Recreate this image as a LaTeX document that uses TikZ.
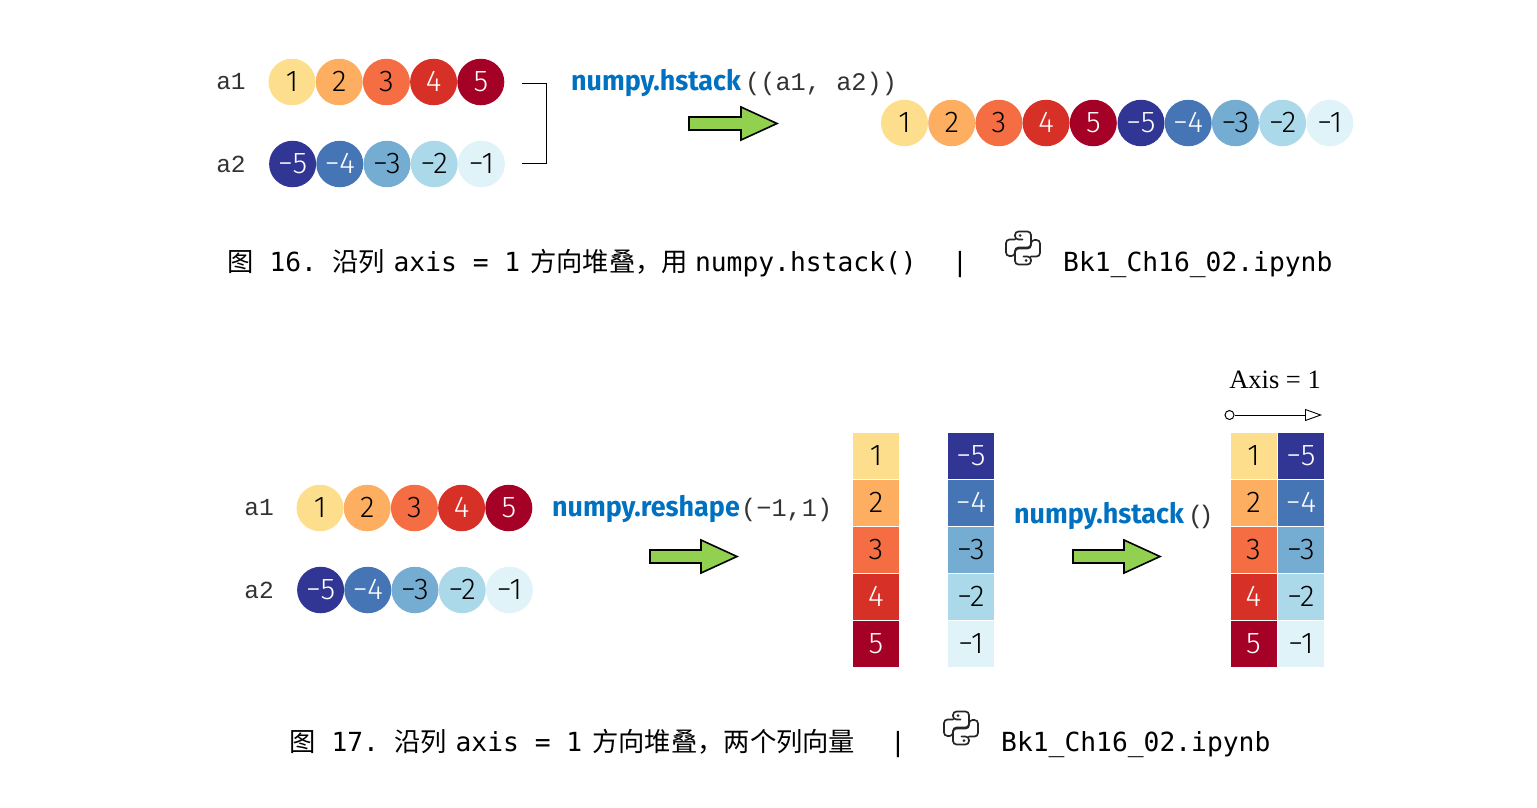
\documentclass[tikz,border=0pt]{standalone}
\usepackage{fontspec}
\usetikzlibrary{arrows.meta,shapes.geometric}
\setmainfont{Liberation Sans}
\newfontfamily\numf[Numbers=Lining]{Fira Sans Light}
\newfontfamily\blf[FakeStretch=0.96]{Fira Sans}
\newfontfamily\codef{Liberation Mono}
\newfontfamily\capf{DejaVu Sans Mono}
\newfontfamily\cjkf{Noto Sans CJK SC}
\newfontfamily\serf{Liberation Serif}
\definecolor{c1}{HTML}{FDDE8D}
\definecolor{c2}{HTML}{FDAE61}
\definecolor{c3}{HTML}{F46D43}
\definecolor{c4}{HTML}{D73027}
\definecolor{c5}{HTML}{A50026}
\definecolor{m5}{HTML}{313695}
\definecolor{m4}{HTML}{4575B4}
\definecolor{m3}{HTML}{74ADD1}
\definecolor{m2}{HTML}{ABD9E9}
\definecolor{m1}{HTML}{E0F3F8}
\definecolor{codeblue}{HTML}{0070C0}
\definecolor{arrgreen}{HTML}{92D050}
\tikzset{
  x=1pt,y=-1pt,
  dot/.style n args={2}{shape=ellipse,draw=none,fill=#1,minimum width=47pt,minimum height=46.5pt,inner sep=0pt,font=\fontsize{30}{30}\numf,text=#2,text height=19pt,text depth=0pt},
  cell/.style n args={2}{shape=rectangle,draw=none,fill=#1,minimum width=46pt,minimum height=46pt,inner sep=0pt,font=\fontsize{30}{30}\numf,text=#2,text height=19pt,text depth=0pt},
  varlab/.style={font=\fontsize{24.5}{25}\codef,inner sep=0pt,text=black!80},
  fname/.style={font=\fontsize{28}{28}\blf\bfseries,text=codeblue,inner sep=0pt,anchor=base west},
  fargs/.style={font=\fontsize{25.3}{26}\codef,text=black!80,inner sep=0pt,anchor=base west},
  capt/.style={font=\fontsize{26.3}{27}\capf,inner sep=0pt,anchor=base west,text=black},
  bigarrow/.style={draw=black,line width=1.6pt,fill=arrgreen,line join=miter},
  bracketline/.style={draw=black,line width=0.9pt},
  pylogo/.pic={
    \foreach \r in {0,180}{
      \begin{scope}[rotate=\r]
        \draw[line width=1.7pt,rounded corners=3.5pt,line cap=round,black!85]
          (-0.5,-8.5) -- (-8,-8.5) -- (-8,-16.5) -- (8,-16.5) -- (8,-0.5) -- (-8,-0.5) -- (-8,8) -- (-17,8) -- (-17,-8.5) -- (-8,-8.5);
        \fill[black!85] (-3,-12.5) circle (1.5);
      \end{scope}
    }
  }
}
\newcommand{\numrow}[4]{% prefix, y, first x, list
  \foreach \lab/\col/\txt [count=\i from 0] in #4{
    \pgfmathsetmacro{\xx}{#3+47.2*\i}
    \node[dot={\col}{\txt}] (#1\i) at (\xx,#2) {\lab};
  }}
\newcommand{\numcol}[3]{% prefix, x, list
  \foreach \lab/\col/\txt [count=\i from 0] in #3{
    \pgfmathsetmacro{\yy}{456+47*\i}
    \node[cell={\col}{\txt}] (#1\i) at (#2,\yy) {\lab};
  }}
\def\posl{1/c1/black,2/c2/black,3/c3/black,4/c4/white,5/c5/white}
\def\negl{−5/m5/white,−4/m4/white,−3/m3/black,−2/m2/black,−1/m1/black}
\begin{document}
\begin{tikzpicture}
\useasboundingbox (0,0) rectangle (1537,807);
% ---- top
\node[varlab] (la1) at (231,82) {a1};
\node[varlab] (la2) at (231,164) {a2};
\numrow{A}{82}{292}{\posl}
\numrow{B}{164}{292.6}{\negl}
\coordinate (brt) at (522,83);
\coordinate (brb) at (522,163);
\draw[bracketline] (brt) -- (546.5,83) -- (546.5,163) -- (brb);
\node[fname] (f1) at (571,90) {numpy.hstack};
\node[fargs] (f1a) at (745,90) {((a1, a2))};
\draw[bigarrow] (689,117) -- (741,117) -- (741,107) -- (777,123.5) -- (741,140) -- (741,130) -- (689,130) -- cycle;
\numrow{C}{123}{904.5}{\posl}
\numrow{D}{123}{1141}{\negl}
% ---- caption 1
\node[capt] (cap1) at (227,271) {{\cjkf 图}\kern16pt 16.\kern15pt{\cjkf 沿列}\kern9pt axis = 1\kern10pt{\cjkf 方向堆叠，用}\kern7pt numpy.hstack()};
\node[capt] (bar1) at (952,271) {|};
\pic at (1023,248) {pylogo};
\node[capt] (nb1) at (1063,271) {Bk1\_Ch16\_02.ipynb};
% ---- bottom
\node[varlab] (lb1) at (259,508) {a1};
\node[varlab] (lb2) at (259,590) {a2};
\numrow{E}{508}{320}{\posl}
\numrow{F}{590}{320.6}{\negl}
\node[fname] (f2) at (552,516) {numpy.reshape};
\node[fargs] (f2a) at (741,516) {(−1,1)};
\draw[bigarrow] (650,550) -- (701,550) -- (701,540) -- (737,556.5) -- (701,573) -- (701,563) -- (650,563) -- cycle;
\numcol{G}{876}{\posl}
\numcol{H}{971}{\negl}
\node[fname] (f3) at (1014,523) {numpy.hstack};
\node[fargs] (f3a) at (1188,523) {(\kern-5pt)};
\draw[bigarrow] (1073,550) -- (1124,550) -- (1124,540) -- (1160,556.5) -- (1124,573) -- (1124,563) -- (1073,563) -- cycle;
\numcol{I}{1253.5}{\posl}
\numcol{J}{1301}{\negl}
\node[font=\fontsize{26.5}{26}\serf,inner sep=0pt,text=black] (axl) at (1275,380) {Axis = 1};
\node[shape=circle,draw=black,line width=1pt,minimum size=9pt,inner sep=0pt] (axo) at (1229.5,415) {};
\coordinate (axe) at (1322,415);
\draw[line width=0.9pt,-{Triangle[open,length=17pt,width=12pt,fill=white]}] (axo) -- (axe);
% ---- caption 2
\node[capt] (cap2) at (289,751) {{\cjkf 图}\kern16pt 17.\kern15pt{\cjkf 沿列}\kern9pt axis = 1\kern10pt{\cjkf 方向堆叠，两个列向量}};
\node[capt] (bar2) at (890,751) {|};
\pic at (961,728) {pylogo};
\node[capt] (nb2) at (1001,751) {Bk1\_Ch16\_02.ipynb};
\end{tikzpicture}
\end{document}
